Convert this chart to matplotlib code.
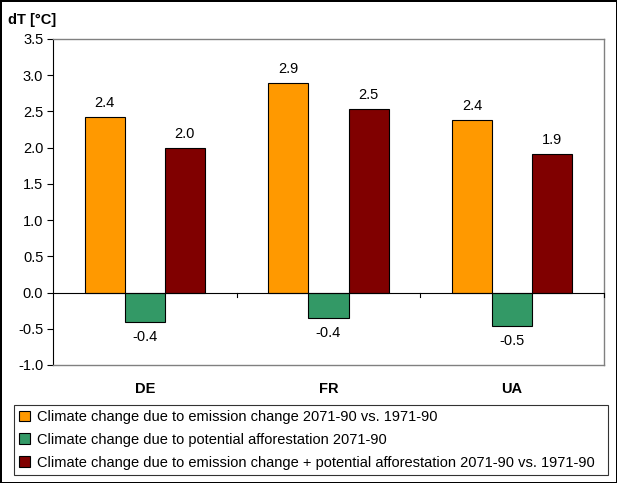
import matplotlib
matplotlib.use("Agg")
import matplotlib.pyplot as plt
import numpy as np

categories = ["DE", "FR", "UA"]
emission = [2.42, 2.89, 2.38]
afforestation = [-0.40, -0.35, -0.46]
combined = [2.00, 2.54, 1.91]
emission_labels = ["2.4", "2.9", "2.4"]
afforestation_labels = ["-0.4", "-0.4", "-0.5"]
combined_labels = ["2.0", "2.5", "1.9"]
series_names = [
    "Climate change due to emission change 2071-90 vs. 1971-90",
    "Climate change due to potential afforestation 2071-90",
    "Climate change due to emission change + potential afforestation 2071-90 vs. 1971-90",
]
colors = ["#FF9900", "#339966", "#800000"]

plt.rcParams['font.family'] = ['Liberation Sans', 'DejaVu Sans']
FS = 10.5
W, H = 617, 483
fig = plt.figure(figsize=(W / 100, H / 100), dpi=100)
fig.patch.set_facecolor("white")
fig.patch.set_edgecolor("black")
fig.patch.set_linewidth(2.0)

def px(x0, y0, x1, y1):
    return [x0 / W, 1 - y1 / H, (x1 - x0) / W, (y1 - y0) / H]

ax = fig.add_axes(px(53, 39, 604, 365))
x = np.arange(len(categories))
bw = 0.218
data = [emission, afforestation, combined]
labels = [emission_labels, afforestation_labels, combined_labels]
for i, (vals, c, labs) in enumerate(zip(data, colors, labels)):
    pos = x + (i - 1) * bw
    ax.bar(pos, vals, width=bw, color=c, edgecolor="black", linewidth=0.8, label=series_names[i], zorder=3)
    for p, v, l in zip(pos, vals, labs):
        if v >= 0:
            ax.annotate(l, (p, v), xytext=(0, 5), textcoords="offset points", ha="center", va="bottom", fontsize=FS)
        else:
            ax.annotate(l, (p, v), xytext=(0, -6), textcoords="offset points", ha="center", va="top", fontsize=FS)

ax.set_xlim(-0.5, 2.5)
ax.set_ylim(-1.0, 3.5)
yt = np.arange(-1.0, 3.51, 0.5)
ax.set_yticks(yt)
ax.set_yticklabels([f"{v:.1f}" for v in yt], fontsize=FS)
ax.tick_params(axis="y", length=4, width=0.8, color="black", pad=3)
ax.set_xticks([])
for s in ["top", "right", "bottom"]:
    ax.spines[s].set_color("#808080")
    ax.spines[s].set_linewidth(1.0)
ax.spines["left"].set_color("black")
ax.spines["left"].set_linewidth(0.8)
ax.axhline(0, color="black", linewidth=0.8, zorder=4)
for b in [0.5, 1.5, 2.5]:
    ax.plot([b, b], [0, -0.06], color="black", linewidth=0.8, zorder=4, clip_on=False)
for xi, c in zip(x, categories):
    ax.annotate(c, (xi, -1.0), xytext=(0, -12), textcoords="offset points",
                ha="center", va="top", fontsize=FS, fontweight="bold", annotation_clip=False)

fig.text(8 / W, 1 - 20 / H, "dT [°C]", fontsize=FS, fontweight="bold", ha="left", va="center")

handles, lbls = ax.get_legend_handles_labels()
leg = fig.legend(handles, lbls, loc="upper left", bbox_to_anchor=(14 / W, 1 - 476 / H, 594 / W, 71 / H),
                 mode="expand", fontsize=FS, frameon=True, fancybox=False, edgecolor="black",
                 handlelength=0.75, handleheight=0.75, handletextpad=0.5, labelspacing=0.6,
                 borderpad=0.35, borderaxespad=0)
leg.get_frame().set_linewidth(0.8)

fig.savefig("out.png", dpi=100)
